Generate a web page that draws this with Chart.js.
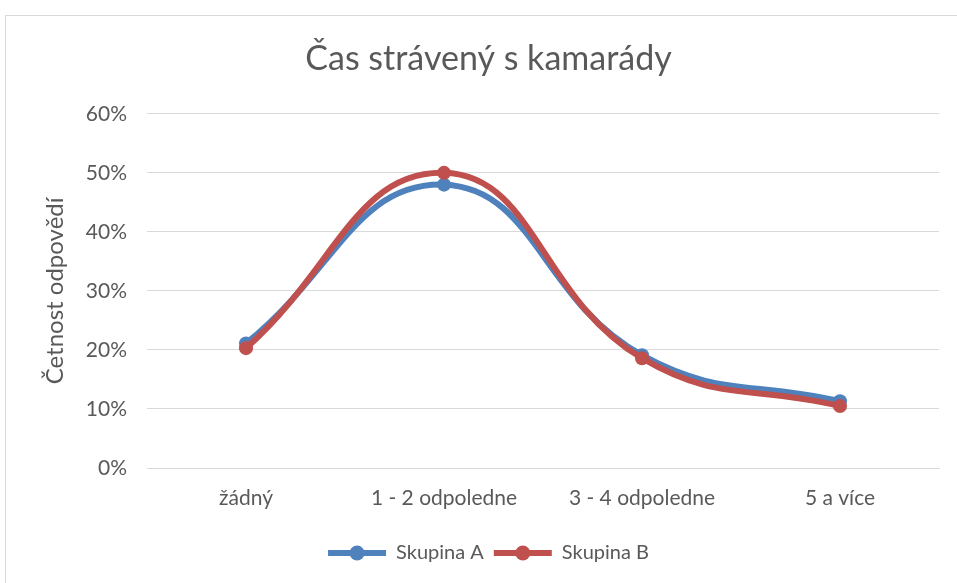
<!DOCTYPE html>
<html>
<head>
<meta charset="utf-8">
<script src="https://cdn.jsdelivr.net/npm/chart.js@4"></script>
<style>
  html, body { margin: 0; padding: 0; background: #fff; }
  #wrap { position: relative; width: 957px; height: 583px; overflow: hidden; }
  #frame { position: absolute; left: 5px; top: 15px; width: 980px; height: 600px; border: 1px solid #d9d9d9; }
  canvas { position: absolute; left: 0; top: 0; }
</style>
</head>
<body>
<div id="wrap">
  <div id="frame"></div>
  <canvas id="chart" width="957" height="583"></canvas>
</div>
<script>
// categories and values
const categories = ["žádný", "1 - 2 odpoledne", "3 - 4 odpoledne", "5 a více"];
const skupinaA = [0.211, 0.480, 0.191, 0.113];
const skupinaB = [0.203, 0.500, 0.186, 0.105];
const seriesNames = ["Skupina A", "Skupina B"];

const FONT = "Lato, 'Open Sans', sans-serif";
const TEXT = "#595959";
const BLUE = "#4F81BD";
const RED = "#C0504D";

// draws the round marker over the legend line
const legendMarkers = {
  id: "legendMarkers",
  afterDraw(chart) {
    const legend = chart.legend;
    if (!legend || !legend.legendHitBoxes) return;
    const ctx = chart.ctx;
    const boxW = legend.options.labels.boxWidth;
    const fs = legend.options.labels.font.size;
    legend.legendItems.forEach((item, i) => {
      const hb = legend.legendHitBoxes[i];
      ctx.save();
      ctx.fillStyle = item.fillStyle;
      ctx.beginPath();
      ctx.arc(hb.left + boxW / 2, hb.top + fs / 2, 7.5, 0, Math.PI * 2);
      ctx.fill();
      ctx.restore();
    });
  },
};

new Chart(document.getElementById("chart"), {
  type: "line",
  data: {
    labels: categories,
    datasets: [
      {
        label: seriesNames[0],
        data: skupinaA,
        borderColor: BLUE,
        backgroundColor: BLUE,
        pointBackgroundColor: BLUE,
        borderWidth: 6,
        pointRadius: 7,
        pointBorderWidth: 0,
        tension: 0.45,
        order: 1,
      },
      {
        label: seriesNames[1],
        data: skupinaB,
        borderColor: RED,
        backgroundColor: RED,
        pointBackgroundColor: RED,
        borderWidth: 6,
        pointRadius: 7,
        pointBorderWidth: 0,
        tension: 0.45,
        order: 0,
      },
    ],
  },
  options: {
    responsive: false,
    animation: false,
    layout: { padding: { left: 38, right: 18, top: 0, bottom: 10 } },
    plugins: {
      title: {
        display: true,
        text: "Čas strávený s kamarády",
        color: TEXT,
        font: { family: FONT, size: 34, weight: "normal" },
        padding: { top: 39, bottom: 34 },
      },
      legend: {
        position: "bottom",
        labels: {
          color: TEXT,
          font: { family: FONT, size: 20 },
          boxWidth: 58,
          boxHeight: 6,
          padding: 10,
          sort: (a, b) => a.datasetIndex - b.datasetIndex,
          generateLabels(chart) {
            const items = Chart.defaults.plugins.legend.labels.generateLabels(chart);
            items.forEach((it) => { it.lineWidth = 0; });
            return items;
          },
        },
      },
      tooltip: { enabled: false },
    },
    scales: {
      x: {
        offset: true,
        grid: { display: false, drawTicks: false },
        border: { color: "#d9d9d9" },
        ticks: { color: TEXT, font: { family: FONT, size: 21 }, padding: 18 },
        afterFit(s) { s.height = 65; },
      },
      y: {
        min: 0,
        max: 0.6,
        ticks: {
          stepSize: 0.1,
          color: TEXT,
          font: { family: FONT, size: 21 },
          padding: 20,
          callback: (v) => Math.round(v * 100) + "%",
        },
        grid: { color: "#d9d9d9", drawTicks: false },
        border: { display: false },
        title: {
          display: true,
          text: "Četnost odpovědí",
          color: TEXT,
          font: { family: FONT, size: 24, weight: "normal" },
          padding: { top: 3, bottom: 0 },
        },
        afterFit(s) { s.width = 109; },
      },
    },
  },
  plugins: [legendMarkers],
});
</script>
</body>
</html>
